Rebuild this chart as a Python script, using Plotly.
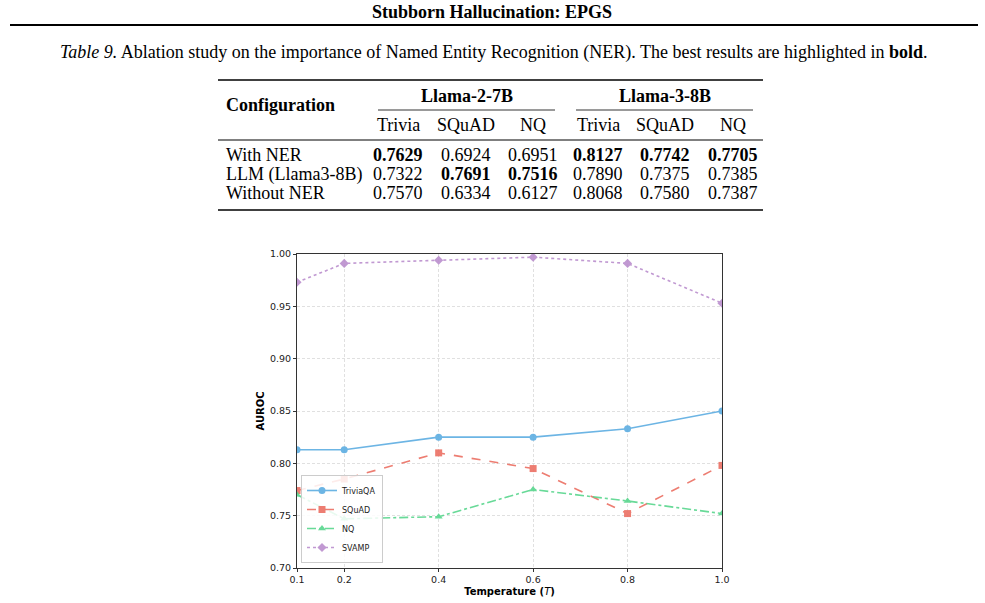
import plotly.graph_objects as go

# ---------------- data ----------------
page_title = "Stubborn Hallucination: EPGS"
caption_label = "Table 9."
caption_text = " Ablation study on the importance of Named Entity Recognition (NER). The best results are highlighted in "
caption_bold = "bold"

configs = ["With NER", "LLM (Llama3-8B)", "Without NER"]
models = ["Llama-2-7B", "Llama-3-8B"]
datasets = ["Trivia", "SQuAD", "NQ"]
row_with_ner = [0.7629, 0.6924, 0.6951, 0.8127, 0.7742, 0.7705]
row_llm = [0.7322, 0.7691, 0.7516, 0.7890, 0.7375, 0.7385]
row_without_ner = [0.7570, 0.6334, 0.6127, 0.8068, 0.7580, 0.7387]

temperatures = [0.1, 0.2, 0.4, 0.6, 0.8, 1.0]
triviaqa = [0.813, 0.813, 0.825, 0.825, 0.833, 0.850]
squad = [0.774, 0.785, 0.810, 0.795, 0.752, 0.798]
nq = [0.770, 0.747, 0.749, 0.775, 0.764, 0.752]
svamp = [0.973, 0.991, 0.994, 0.997, 0.991, 0.953]
series_names = ["TriviaQA", "SQuAD", "NQ", "SVAMP"]
x_ticks = [0.1, 0.2, 0.4, 0.6, 0.8, 1.0]
y_ticks = [0.70, 0.75, 0.80, 0.85, 0.90, 0.95, 1.00]

# ---------------- layout helpers ----------------
W, H = 985, 603
SERIF = "Liberation Serif"
SANS = "DejaVu Sans"
FS = 18
FS_TABLE = 18


def px(x):
    return x / W


def py(y):
    return 1 - y / H


fig = go.Figure()

styles = [
    dict(color="#5DADE2", dash="solid", symbol="circle"),
    dict(color="#EC7063", dash="dash", symbol="square"),
    dict(color="#58D68D", dash="dashdot", symbol="triangle-up"),
    dict(color="#BB8FCE", dash="dot", symbol="diamond"),
]
for name, vals, st in zip(series_names, [triviaqa, squad, nq, svamp], styles):
    fig.add_trace(go.Scatter(
        x=temperatures, y=vals, name=name, mode="lines+markers",
        line=dict(color=st["color"], dash=st["dash"], width=1.6),
        marker=dict(symbol=st["symbol"], size=7, color=st["color"]),
        opacity=0.9,
    ))

annotations = []
shapes = []

# page header
annotations.append(dict(text="<b>" + page_title + "</b>", x=px(492), y=py(12),
                        font=dict(family=SERIF, size=FS, color="black")))
shapes.append(dict(type="line", xref="paper", yref="paper", x0=px(10), x1=px(978),
                   y0=py(25), y1=py(25), line=dict(color="black", width=2)))
annotations.append(dict(text="<i>" + caption_label + "</i>" + caption_text + "<b>" + caption_bold + "</b>.",
                        x=px(493), y=py(52), font=dict(family=SERIF, size=FS, color="black")))

# table
rows = [row_with_ner, row_llm, row_without_ner]
col_x = [398, 466, 533, 598, 665, 733]
row_y = [155, 174, 193]
col_best = [max(r[i] for r in rows) for i in range(len(col_x))]

for y0, lw in [(80, 1.5), (140, 1), (210, 1.5)]:
    shapes.append(dict(type="line", xref="paper", yref="paper", x0=px(218), x1=px(763),
                       y0=py(y0), y1=py(y0), line=dict(color="black", width=lw)))
for (x0, x1) in [(378, 555), (576, 753)]:
    shapes.append(dict(type="line", xref="paper", yref="paper", x0=px(x0), x1=px(x1),
                       y0=py(110), y1=py(110), line=dict(color="black", width=0.8)))

annotations.append(dict(text="<b>Configuration</b>", x=px(225), y=py(105), xanchor="left",
                        font=dict(family=SERIF, size=FS_TABLE, color="black")))
for m, cx in zip(models, [467, 665]):
    annotations.append(dict(text="<b>" + m + "</b>", x=px(cx), y=py(96),
                            font=dict(family=SERIF, size=FS_TABLE, color="black")))
for i, cx in enumerate(col_x):
    annotations.append(dict(text=datasets[i % 3], x=px(cx), y=py(125),
                            font=dict(family=SERIF, size=FS_TABLE, color="black")))
for ri, (cfg, vals) in enumerate(zip(configs, rows)):
    annotations.append(dict(text=cfg, x=px(225), y=py(row_y[ri]), xanchor="left",
                            font=dict(family=SERIF, size=FS_TABLE, color="black")))
    for ci, v in enumerate(vals):
        t = f"{v:.4f}"
        if v == col_best[ci]:
            t = "<b>" + t + "</b>"
        annotations.append(dict(text=t, x=px(col_x[ci]), y=py(row_y[ri]),
                                font=dict(family=SERIF, size=FS_TABLE, color="black")))

for a in annotations:
    a.update(xref="paper", yref="paper", showarrow=False, borderpad=0)
    a.setdefault("xanchor", "center")
    a.setdefault("yanchor", "middle")

axis_common = dict(
    showline=True, linecolor="#333", linewidth=1, mirror=True,
    ticks="outside", ticklen=3, tickcolor="#333",
    showgrid=True, gridcolor="#e0e0e0", griddash="3px,2px", gridwidth=0.8,
    zeroline=False, tickfont=dict(family=SANS, size=9.5, color="#222"),
)

fig.update_layout(
    width=W, height=H,
    margin=dict(l=0, r=0, t=0, b=0, pad=0, autoexpand=False),
    paper_bgcolor="white", plot_bgcolor="white",
    annotations=annotations, shapes=shapes,
    xaxis=dict(domain=[px(297), px(722)], range=[0.1, 1.0], tickvals=x_ticks,
               ticktext=[f"{v:.1f}" for v in x_ticks], automargin=False,
               title=dict(text="<b>Temperature (</b><i>T</i><b>)</b>", standoff=3,
                          font=dict(family=SANS, size=10, color="black")),
               **axis_common),
    yaxis=dict(domain=[py(568), py(254)], range=[0.70, 1.00], tickvals=y_ticks,
               ticktext=[f"{v:.2f}" for v in y_ticks], automargin=False,
               title=dict(text="<b>AUROC</b>", standoff=3,
                          font=dict(family=SANS, size=10, color="black")),
               **axis_common),
    legend=dict(x=px(301), y=py(563), xanchor="left", yanchor="bottom",
                bgcolor="rgba(255,255,255,0.85)", bordercolor="#cccccc", borderwidth=1,
                font=dict(family=SANS, size=8, color="#222"), itemwidth=30,
                tracegroupgap=0),
    showlegend=True,
)

fig.write_html(
    "out.html",
    post_script="document.body.style.margin='0';document.body.style.overflow='hidden';"
                "document.documentElement.style.overflow='hidden';",
)
